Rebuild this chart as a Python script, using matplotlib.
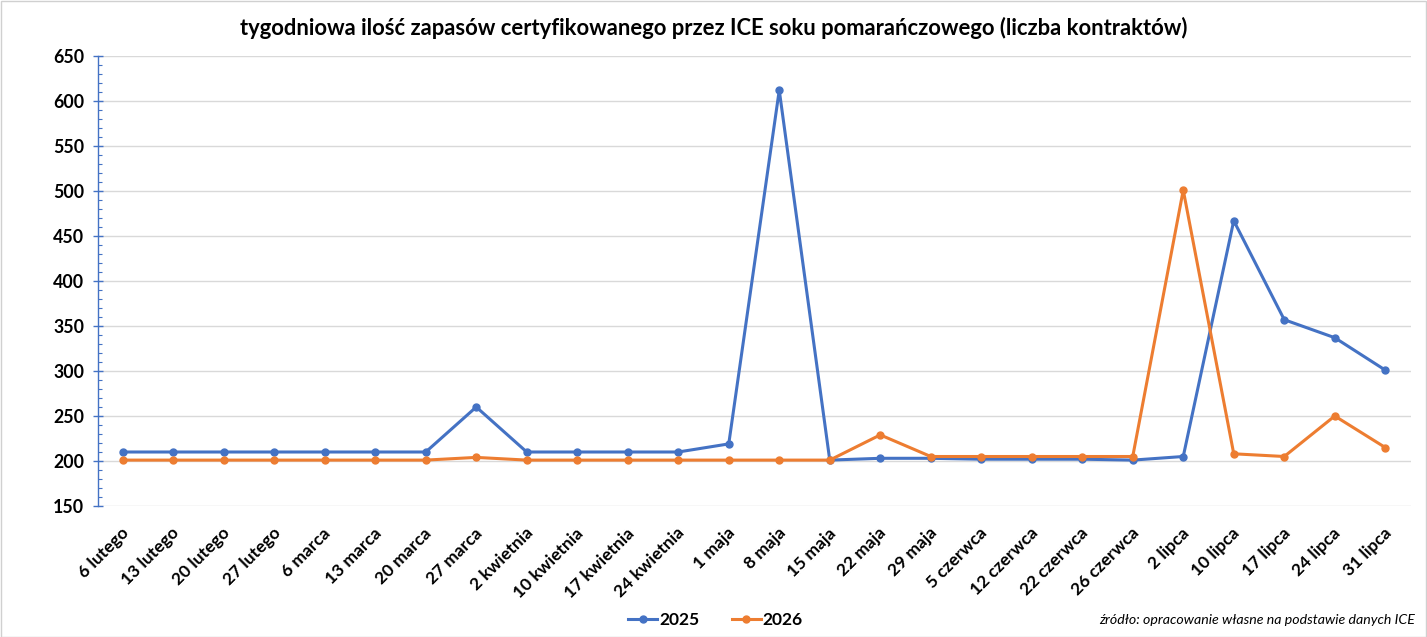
import matplotlib
matplotlib.use("Agg")
import matplotlib.pyplot as plt
from matplotlib.ticker import MultipleLocator
from matplotlib.patches import Rectangle
from matplotlib.transforms import ScaledTranslation

categories = ["6 lutego", "13 lutego", "20 lutego", "27 lutego", "6 marca", "13 marca",
              "20 marca", "27 marca", "2 kwietnia", "10 kwietnia", "17 kwietnia",
              "24 kwietnia", "1 maja", "8 maja", "15 maja", "22 maja", "29 maja",
              "5 czerwca", "12 czerwca", "22 czerwca", "26 czerwca", "2 lipca",
              "10 lipca", "17 lipca", "24 lipca", "31 lipca"]
s2025 = [210, 210, 210, 210, 210, 210, 210, 260, 210, 210, 210, 210, 219, 612, 201,
         203, 203, 202, 202, 202, 201, 205, 467, 357, 337, 301]
s2026 = [201, 201, 201, 201, 201, 201, 201, 204, 201, 201, 201, 201, 201, 201, 201,
         229, 205, 205, 205, 205, 205, 501, 208, 205, 250, 215]
yticks = [150, 200, 250, 300, 350, 400, 450, 500, 550, 600, 650]

plt.rcParams['font.family'] = ['Lato', 'DejaVu Sans']

W, H = 1427, 637
fig = plt.figure(figsize=(W / 100, H / 100), dpi=100)
ax = fig.add_axes([97.5 / W, 1 - 506 / H, (1410.5 - 97.5) / W, (506 - 56) / H])

x = list(range(len(categories)))
blue = "#4472C4"
orange = "#ED7D31"
ax.plot(x, s2025, color=blue, lw=2.2, marker="o", ms=5, label="2025", zorder=3)
ax.plot(x, s2026, color=orange, lw=2.2, marker="o", ms=5, label="2026", zorder=3)

ax.set_xlim(-0.5, len(categories) - 0.5)
ax.set_ylim(150, 650)
ax.set_yticks(yticks)
ax.yaxis.set_minor_locator(MultipleLocator(10))
ax.grid(axis="y", color="#d9d9d9", lw=1.0, zorder=0)
ax.set_axisbelow(True)

for s in ["top", "right", "bottom"]:
    ax.spines[s].set_visible(False)
ax.spines["left"].set_color(blue)
ax.spines["left"].set_linewidth(1.0)

ax.tick_params(axis="y", which="major", direction="inout", length=7, width=1, color=blue,
               labelsize=12.8, pad=6)
ax.tick_params(axis="y", which="minor", direction="in", length=3, width=0.8, color=blue)
ax.tick_params(axis="x", length=0, pad=10)
for lab in ax.get_yticklabels():
    lab.set_fontweight("bold")

ax.set_xticks(x)
ax.set_xticklabels(categories, rotation=45, ha="right", rotation_mode="anchor",
                   fontsize=12.5, fontweight="bold")
offset = ScaledTranslation(-2 / 100, -5 / 100, fig.dpi_scale_trans)
for lab in ax.get_xticklabels():
    lab.set_transform(lab.get_transform() + offset)

fig.text(0.5, 1 - 28 / H, "tygodniowa ilość zapasów certyfikowanego przez ICE soku pomarańczowego (liczba kontraktów)",
         ha="center", va="center", fontsize=15.8, fontweight="bold")

leg = fig.legend(loc="center", bbox_to_anchor=(715.5 / W, 1 - 620 / H), ncol=2, frameon=False,
                 prop={"weight": "bold", "size": 12.5}, handlelength=1.67, columnspacing=1.9,
                 handletextpad=0.1, borderpad=0, borderaxespad=0)

fig.text(1415 / W, 1 - 620 / H, "źródło: opracowanie własne na podstawie danych ICE",
         ha="right", va="center", fontsize=10.2, style="italic")

fig.patches.append(Rectangle((0.5 / W, 0.5 / H), (W - 1.5) / W, (H - 1.5) / H,
                             transform=fig.transFigure, fill=False, edgecolor="#d0d0d0", lw=1))

fig.savefig("out.png", dpi=100)
